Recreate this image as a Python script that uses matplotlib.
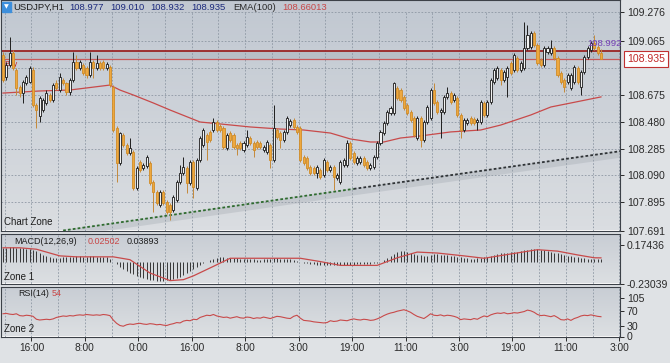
import numpy as np
import matplotlib
matplotlib.use('Agg')
import matplotlib.pyplot as plt
from matplotlib.colors import LinearSegmentedColormap
from matplotlib.patches import Rectangle

plt.rcParams['font.family'] = ['Liberation Sans', 'DejaVu Sans']

#################### Data ####################

# USDJPY H1 candles
c_open = [108.964, 108.804, 108.892, 108.979, 108.855, 108.732, 108.688, 108.761, 108.768, 108.855,
          108.601, 108.522, 108.565, 108.616, 108.674, 108.638, 108.761, 108.710, 108.783, 108.761,
          108.696, 108.783, 108.913, 108.870, 108.892, 108.870, 108.819, 108.913, 108.870, 108.906,
          108.913, 108.870, 108.877, 108.732, 108.435, 108.181, 108.384, 108.311, 108.253, 108.260,
          107.999, 108.188, 108.144, 108.159, 108.181, 108.043, 107.970, 107.876, 107.970, 107.898,
          107.876, 107.840, 107.912, 108.043, 108.108, 108.144, 108.036, 108.188, 107.999, 108.202,
          108.311, 108.384, 108.406, 108.420, 108.478, 108.449, 108.435, 108.289, 108.398, 108.384,
          108.311, 108.326, 108.275, 108.311, 108.362, 108.326, 108.333, 108.326, 108.275, 108.260,
          108.311, 108.202, 108.420, 108.398, 108.347, 108.406, 108.456, 108.493, 108.442, 108.435,
          108.224, 108.217, 108.152, 108.144, 108.108, 108.130, 108.094, 108.188, 108.130, 108.152,
          108.072, 108.043, 108.166, 108.166, 108.326, 108.253, 108.181, 108.188, 108.217, 108.188,
          108.144, 108.152, 108.224, 108.326, 108.398, 108.471, 108.543, 108.543, 108.725, 108.710,
          108.659, 108.601, 108.551, 108.507, 108.362, 108.507, 108.347, 108.478, 108.507, 108.710,
          108.623, 108.551, 108.551, 108.659, 108.688, 108.638, 108.652, 108.529, 108.420, 108.471,
          108.507, 108.500, 108.478, 108.478, 108.616, 108.529, 108.623, 108.768, 108.797, 108.855,
          108.783, 108.804, 108.906, 108.855, 108.942, 108.855, 108.870, 109.015, 109.022, 109.124,
          109.037, 108.928, 108.892, 108.986, 108.979, 109.015, 108.942, 108.833, 108.783, 108.768,
          108.725, 108.768, 108.870, 108.732, 108.841, 108.950, 109.000, 109.051, 109.022, 108.977]
c_close = [108.783, 108.892, 108.979, 108.870, 108.725, 108.688, 108.768, 108.804, 108.870, 108.601,
           108.565, 108.652, 108.638, 108.688, 108.638, 108.746, 108.725, 108.804, 108.761, 108.696,
           108.783, 108.913, 108.870, 108.913, 108.833, 108.819, 108.913, 108.870, 108.906, 108.870,
           108.870, 108.899, 108.746, 108.420, 108.181, 108.398, 108.311, 108.253, 108.289, 107.999,
           108.144, 108.130, 108.166, 108.224, 108.036, 107.970, 107.890, 107.970, 107.890, 107.825,
           107.825, 107.934, 108.043, 108.108, 108.152, 108.036, 108.188, 108.007, 108.202, 108.362,
           108.420, 108.333, 108.347, 108.478, 108.420, 108.420, 108.297, 108.384, 108.347, 108.297,
           108.289, 108.289, 108.326, 108.369, 108.326, 108.275, 108.297, 108.297, 108.297, 108.333,
           108.202, 108.435, 108.369, 108.347, 108.406, 108.507, 108.485, 108.442, 108.406, 108.202,
           108.181, 108.144, 108.108, 108.108, 108.152, 108.079, 108.202, 108.130, 108.152, 108.079,
           108.094, 108.188, 108.202, 108.326, 108.217, 108.188, 108.217, 108.217, 108.166, 108.144,
           108.166, 108.224, 108.326, 108.406, 108.471, 108.551, 108.580, 108.761, 108.652, 108.638,
           108.580, 108.543, 108.493, 108.384, 108.507, 108.347, 108.478, 108.587, 108.710, 108.616,
           108.551, 108.565, 108.659, 108.688, 108.623, 108.674, 108.529, 108.420, 108.493, 108.493,
           108.471, 108.471, 108.493, 108.623, 108.529, 108.623, 108.783, 108.855, 108.870, 108.783,
           108.841, 108.870, 108.833, 108.964, 108.855, 108.906, 109.015, 109.109, 109.124, 109.037,
           108.906, 108.892, 109.015, 109.015, 109.015, 108.942, 108.819, 108.768, 108.732, 108.819,
           108.819, 108.877, 108.768, 108.841, 108.950, 109.015, 109.051, 109.015, 108.979, 108.935]
c_high = [108.986, 108.913, 109.095, 109.000, 108.870, 108.746, 108.783, 108.819, 108.884, 108.877,
          108.616, 108.667, 108.652, 108.710, 108.688, 108.761, 108.783, 108.833, 108.797, 108.768,
          108.797, 108.986, 108.964, 108.928, 108.906, 108.884, 108.986, 108.928, 108.964, 108.921,
          108.928, 108.913, 108.892, 108.746, 108.449, 108.406, 108.398, 108.326, 108.362, 108.275,
          108.159, 108.202, 108.181, 108.239, 108.195, 108.057, 107.985, 107.985, 107.985, 107.912,
          107.890, 107.949, 108.057, 108.166, 108.224, 108.159, 108.202, 108.202, 108.217, 108.377,
          108.435, 108.398, 108.420, 108.507, 108.493, 108.464, 108.449, 108.398, 108.413, 108.398,
          108.326, 108.340, 108.340, 108.420, 108.377, 108.340, 108.347, 108.340, 108.311, 108.347,
          108.326, 108.601, 108.435, 108.413, 108.420, 108.522, 108.500, 108.507, 108.456, 108.449,
          108.239, 108.231, 108.166, 108.159, 108.166, 108.144, 108.217, 108.202, 108.166, 108.166,
          108.108, 108.202, 108.217, 108.347, 108.340, 108.268, 108.231, 108.231, 108.231, 108.202,
          108.181, 108.239, 108.340, 108.420, 108.485, 108.565, 108.594, 108.768, 108.739, 108.725,
          108.674, 108.616, 108.565, 108.522, 108.522, 108.522, 108.493, 108.601, 108.725, 108.761,
          108.638, 108.580, 108.674, 108.732, 108.703, 108.688, 108.667, 108.543, 108.507, 108.507,
          108.522, 108.514, 108.507, 108.638, 108.630, 108.638, 108.797, 108.870, 108.884, 108.870,
          108.855, 108.884, 108.921, 108.979, 108.957, 108.921, 109.203, 109.182, 109.138, 109.138,
          109.051, 108.942, 109.029, 109.029, 109.073, 109.029, 108.957, 108.848, 108.797, 108.833,
          108.833, 108.892, 108.884, 108.855, 108.964, 109.029, 109.066, 109.109, 109.037, 109.010]
c_low = [108.768, 108.783, 108.877, 108.855, 108.674, 108.659, 108.616, 108.746, 108.761, 108.587,
         108.435, 108.478, 108.551, 108.601, 108.623, 108.623, 108.710, 108.696, 108.746, 108.674,
         108.674, 108.768, 108.855, 108.855, 108.819, 108.797, 108.804, 108.797, 108.855, 108.855,
         108.855, 108.855, 108.732, 108.406, 108.043, 108.166, 108.297, 108.239, 108.239, 107.985,
         107.985, 108.115, 108.130, 108.144, 108.021, 107.825, 107.876, 107.861, 107.876, 107.811,
         107.767, 107.825, 107.898, 108.028, 108.094, 107.963, 108.021, 107.927, 107.985, 108.188,
         108.297, 108.202, 108.333, 108.406, 108.406, 108.406, 108.282, 108.275, 108.333, 108.282,
         108.239, 108.275, 108.260, 108.297, 108.311, 108.224, 108.282, 108.282, 108.260, 108.246,
         108.144, 108.188, 108.355, 108.289, 108.333, 108.391, 108.442, 108.427, 108.391, 108.188,
         108.166, 108.130, 108.094, 108.094, 108.072, 108.065, 108.079, 108.115, 108.115, 107.985,
         108.057, 108.028, 108.152, 108.152, 108.202, 108.173, 108.166, 108.173, 108.152, 108.130,
         108.130, 108.137, 108.210, 108.311, 108.384, 108.456, 108.529, 108.529, 108.638, 108.623,
         108.565, 108.529, 108.478, 108.369, 108.347, 108.297, 108.333, 108.464, 108.493, 108.601,
         108.536, 108.362, 108.536, 108.645, 108.609, 108.623, 108.514, 108.362, 108.406, 108.456,
         108.456, 108.456, 108.420, 108.464, 108.514, 108.514, 108.609, 108.754, 108.783, 108.746,
         108.768, 108.659, 108.819, 108.841, 108.841, 108.841, 108.855, 109.000, 109.008, 109.022,
         108.892, 108.877, 108.877, 108.971, 108.964, 108.928, 108.804, 108.754, 108.696, 108.754,
         108.710, 108.754, 108.754, 108.674, 108.826, 108.935, 108.986, 109.000, 108.964, 108.932]

# EMA(100), read at some bars
ema_idx = [0, 11, 20, 32, 35, 39, 45, 50, 56, 59, 65, 74, 83, 90, 98, 104, 110, 114,
           119, 125, 134, 143, 149, 158, 164, 170, 179]
ema_val = [108.688, 108.703, 108.710, 108.746, 108.710, 108.674, 108.616, 108.565, 108.507,
           108.478, 108.464, 108.442, 108.427, 108.420, 108.398, 108.355, 108.333, 108.333,
           108.362, 108.377, 108.406, 108.420, 108.456, 108.529, 108.587, 108.616, 108.660]

# trend line anchors (bar, price) and horizontal levels
trend_idx = [18, 105, 184.7]
trend_val = [107.691, 107.993, 108.266]
level_high = 108.992
level_bid = 108.935

# MACD(12,26,9) histogram (one per bar) and signal line
macd_hist = [0.14, 0.145, 0.15, 0.15, 0.145, 0.14, 0.14, 0.135, 0.13, 0.12, 0.11,
             0.09, 0.07, 0.055, 0.045, 0.04, 0.04,
             0.04, 0.045, 0.05, 0.05, 0.05, 0.055, 0.055, 0.05, 0.05, 0.055, 0.055, 0.05, 0.05, 0.05, 0.045, 0.03, 0.0,
             -0.03, -0.06, -0.08, -0.10,
             -0.12, -0.13, -0.15, -0.16, -0.17, -0.18, -0.19, -0.195, -0.2, -0.2, -0.2, -0.195, -0.19, -0.185, -0.17, -0.16,
             -0.14, -0.12, -0.1, -0.08, -0.06, -0.04, -0.02, 0.0, 0.015, 0.03,
             0.04, 0.045, 0.045, 0.04, 0.04, 0.035, 0.035, 0.03, 0.03, 0.03, 0.025, 0.025, 0.02,
             0.02, 0.025, 0.025, 0.03, 0.035, 0.035, 0.03, 0.03, 0.025, 0.025, 0.02, 0.01, 0.0,
             -0.01, -0.02, -0.025, -0.03, -0.035, -0.035, -0.04, -0.04, -0.04, -0.04, -0.04, -0.04,
             -0.035, -0.035, -0.035, -0.035, -0.03, -0.03, -0.03, -0.03, -0.025, -0.02, -0.01, 0.0,
             0.02, 0.04, 0.06, 0.08, 0.1, 0.11, 0.11, 0.1, 0.09,
             0.08, 0.07, 0.065, 0.06, 0.06, 0.07, 0.075, 0.075, 0.07, 0.07, 0.065, 0.06, 0.055,
             0.05, 0.045, 0.04, 0.035, 0.03, 0.03, 0.035, 0.04,
             0.045, 0.05, 0.06, 0.07, 0.08, 0.085, 0.09, 0.095, 0.1, 0.1, 0.105, 0.11, 0.12,
             0.125, 0.13, 0.13, 0.13, 0.125, 0.12, 0.11,
             0.1, 0.095, 0.085, 0.08, 0.07, 0.06, 0.055, 0.05, 0.045, 0.04, 0.035, 0.03, 0.03,
             0.025, 0.025, 0.025]
sig_idx = [0, 5, 10, 17, 22, 33, 38, 44, 50, 54, 57, 63, 68, 89, 95, 101, 112, 118, 124,
           130, 138, 144, 152, 160, 166, 172, 177, 179]
sig_val = [0.145, 0.145, 0.13, 0.06, 0.05, 0.05, 0.02, -0.12, -0.2, -0.19, -0.15, -0.05,
           0.035, 0.035, 0.0, -0.04, -0.04, 0.04, 0.1, 0.09, 0.06, 0.035, 0.08, 0.125, 0.11,
           0.07, 0.04, 0.039]

# RSI(14), one per bar
rsi = [62, 63, 61, 60, 62, 57, 56, 58, 57, 55,
       47, 45, 46, 47, 46, 48, 52, 54, 56, 55,
       57, 56, 58, 59, 58, 60, 59, 58, 59, 58,
       60, 59, 57, 45, 36, 30, 28, 32, 34, 33,
       35, 36, 34, 33, 35, 34, 32, 33, 31, 30,
       33, 35, 38, 37, 42, 44, 43, 47, 46, 52,
       55, 58, 57, 60, 56, 54, 52, 53, 50, 52,
       54, 51, 50, 53, 52, 49, 51, 50, 53, 51,
       49, 52, 55, 54, 52, 50, 49, 55, 58, 50,
       44, 43, 42, 40, 39, 38, 37, 38, 43, 41,
       42, 45, 44, 43, 46, 48, 46, 45, 47, 46,
       44, 45, 48, 52, 57, 61, 64, 66, 69, 71,
       73, 70, 66, 60, 55, 52, 49, 55, 62, 58,
       57, 59, 56, 58, 57, 55, 52, 46, 48, 47,
       46, 49, 47, 52, 56, 54, 59, 62, 64, 63,
       65, 62, 63, 65, 64, 66, 68, 72, 70, 66,
       60, 57, 58, 56, 54, 57, 52, 46, 45, 48,
       44, 49, 52, 56, 58, 57, 59, 57, 55, 54]

time_labels = ['16:00', '8:00', '0:00', '16:00', '8:00', '3:00', '19:00', '11:00',
               '3:00', '19:00', '11:00', '3:00']
price_ticks = [109.276, 109.065, 108.675, 108.480, 108.285, 108.090, 107.895, 107.691]
price_grid = [109.276, 109.065, 108.870, 108.675, 108.480, 108.285, 108.090, 107.895]

#################### Figure layout ####################

W, H = 670, 363
fig = plt.figure(figsize=(W / 100, H / 100), dpi=100, facecolor='#dfe2e5')

def panel(top, bottom):
    return fig.add_axes([1 / W, 1 - bottom / H, 619 / W, (bottom - top) / H])

ax = panel(0, 230.5)
ax_m = panel(234, 283.5)
ax_r = panel(287, 336.5)

def shade(a, top, bottom):
    cmap = LinearSegmentedColormap.from_list('bg', [bottom, top])
    a.imshow(np.linspace(0, 1, 64).reshape(-1, 1), cmap=cmap, origin='lower',
             extent=[0, 1, 0, 1], transform=a.transAxes, aspect='auto', zorder=0)

XL = (-0.6, 184.7)
grid_kw = dict(color='#8d97a3', lw=0.6, linestyle=(0, (2, 2)), zorder=1)
vgrid = np.arange(0.5, 185, 8)

for a, top, bottom in [(ax, '#c1c8d1', '#dadde1'), (ax_m, '#c8cdd4', '#dcdfe2'),
                       (ax_r, '#c8cdd4', '#dcdfe2')]:
    shade(a, top, bottom)
    for s in a.spines.values():
        s.set_color('#3c4148')
        s.set_linewidth(0.8)
    a.yaxis.tick_right()
    a.tick_params(axis='y', length=3, width=0.7, pad=2, labelsize=7.6, colors='#2a2a2a')

#################### Main chart ####################

idx = np.arange(len(c_open))
o = np.array(c_open)
c = np.array(c_close)
hi = np.array(c_high)
lo = np.array(c_low)
up = c >= o

ax.vlines(vgrid, 107.691, 109.276, **grid_kw)
for p in price_grid:
    ax.axhline(p, **grid_kw)

ax.axhspan(level_bid, level_high, color='#8a929b', alpha=0.22, lw=0, zorder=1)
ax.axhline(level_high, color='#9a2424', lw=1.3, zorder=2)
ax.axhline(level_bid, color='#c85a5a', lw=0.9, zorder=2)

ax.plot(ema_idx, ema_val, color='#c84a4a', lw=0.9, zorder=2)

# trend line with its soft shadow
ax.plot(trend_idx, np.array(trend_val) - 0.022, color='#9aa1a9', lw=5, alpha=0.3,
        solid_capstyle='butt', zorder=2)
ax.plot(trend_idx[:2], trend_val[:2], color='#2e6b2e', lw=1.3, linestyle=(0, (1.5, 1.2)), zorder=2)
ax.plot(trend_idx[1:], trend_val[1:], color='#2f3336', lw=1.3, linestyle=(0, (1.5, 1.2)), zorder=2)

ax.text(0.5, 108.895, 'Buy', color='#c02020', fontsize=5.5, va='center', zorder=2)

# candles
ax.vlines(idx[up], lo[up], hi[up], color='#1e1e1e', lw=0.7, zorder=3)
ax.vlines(idx[~up], lo[~up], hi[~up], color='#c4893a', lw=0.7, zorder=3)
body = np.maximum(np.abs(c - o), 0.003)
ax.bar(idx[up], body[up], bottom=o[up], width=0.62, color='#f2f2f2',
       edgecolor='#1a1a1a', lw=0.6, zorder=4)
ax.bar(idx[~up], body[~up], bottom=c[~up], width=0.62, color='#eea83e',
       edgecolor='#d08c28', lw=0.6, zorder=4)

ax.text(174.9, 109.051, f'{level_high:.3f}', color='#7440b4', fontsize=6.8, va='center', zorder=5)
ax.text(0.005, 0.025, 'Chart Zone', transform=ax.transAxes, fontsize=7, color='#1e1e1e')

ax.set_xlim(XL)
ax.set_ylim(107.691, 109.363)
ax.set_xticks([])
ax.set_yticks(price_ticks)
ax.set_yticklabels([f'{p:.3f}' for p in price_ticks])

ax.annotate(f'{level_bid:.3f}', xy=(1.0, level_bid), xycoords=('axes fraction', 'data'),
            xytext=(5, 0), textcoords='offset points', va='center', ha='left',
            fontsize=7.6, color='#c02828', annotation_clip=False,
            bbox=dict(boxstyle='square,pad=0.3', fc='white', ec='#c03030', lw=0.8))

#################### MACD ####################

ax_m.vlines(vgrid, -0.3, 0.3, **grid_kw)
ax_m.vlines(idx, 0, macd_hist, color='#2b2b2b', lw=0.65, zorder=3)
ax_m.plot(sig_idx, sig_val, color='#c84a4a', lw=0.9, zorder=4)
ax_m.set_xlim(XL)
ax_m.set_ylim(-0.23039, 0.2900)
ax_m.set_xticks([])
ax_m.set_yticks([0.17436, -0.23039])
ax_m.set_yticklabels(['0.17436', '-0.23039'])
ax_m.text(0.005, 0.08, 'Zone 1', transform=ax_m.transAxes, fontsize=7, color='#1e1e1e')

#################### RSI ####################

ax_r.vlines(vgrid, 0, 140, **grid_kw)
ax_r.plot(idx, rsi, color='#c84a4a', lw=0.8, zorder=3)
ax_r.set_xlim(XL)
ax_r.set_ylim(0, 135)
ax_r.set_yticks([105, 70, 30, 0])
ax_r.set_xticks(8.5 + 16 * np.arange(len(time_labels)))
ax_r.set_xticklabels(time_labels)
ax_r.tick_params(axis='x', length=3, width=0.7, pad=2, labelsize=7.3, colors='#2a2a2a')
ax_r.text(0.005, 0.1, 'Zone 2', transform=ax_r.transAxes, fontsize=7, color='#1e1e1e')

#################### Header texts ####################

def ftext(x, y, s, color, size=6.8):
    fig.text(x / W, 1 - y / H, s, color=color, fontsize=size, va='center', ha='left')

fig.add_artist(Rectangle((2 / W, 1 - 11.5 / H), 9 / W, 9 / H, transform=fig.transFigure,
                         color='#3d8fdc', zorder=5))
fig.text(6.5 / W, 1 - 7 / H, '\u25bc', color='white', fontsize=4.5, ha='center', va='center',
         family='DejaVu Sans', zorder=6)
ftext(13, 7, 'USDJPY,H1', '#1e1e1e')
for xp, s in zip([69, 110, 150, 191], [c_open[-1], c_high[-1], c_low[-1], c_close[-1]]):
    ftext(xp, 7, f'{s:.3f}', '#1c2a7c')
ftext(233, 7, 'EMA(100)', '#2a2a2a')
ftext(282, 7, '108.66013', '#c84848')

ftext(14, 241, 'MACD(12,26,9)', '#1e1e1e', 6.5)
ftext(88, 241, '0.02502', '#c84848', 6.5)
ftext(127, 241, '0.03893', '#1e1e1e', 6.5)

ftext(18, 294, 'RSI(14)', '#1e1e1e', 6.4)
ftext(52, 294, f'{rsi[-1]}', '#c84848', 6.4)

fig.savefig('out.png', dpi=100, facecolor=fig.get_facecolor())
